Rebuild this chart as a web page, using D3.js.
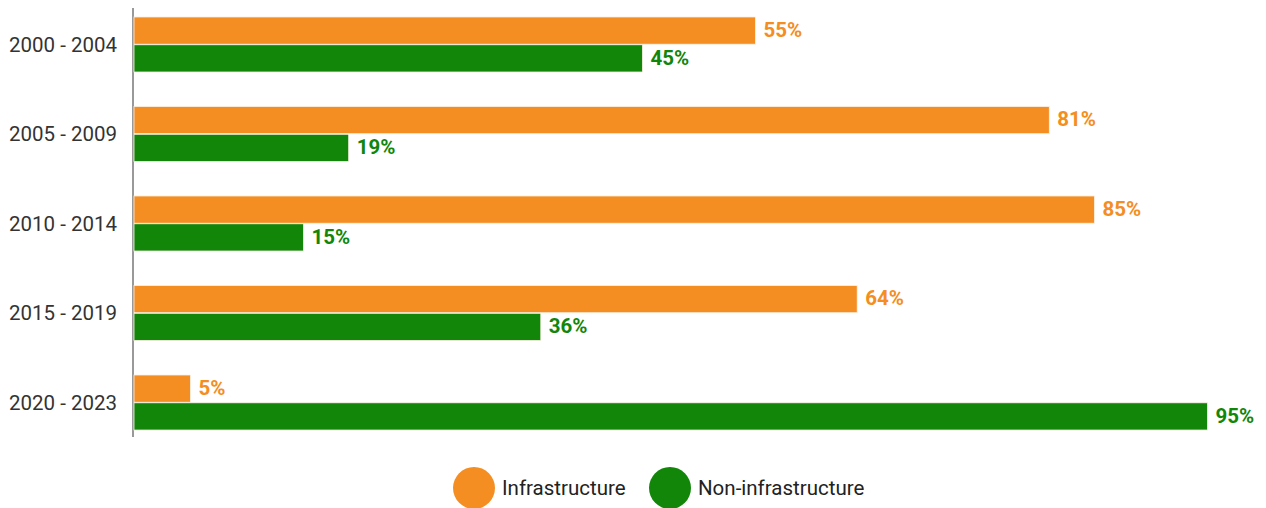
<!DOCTYPE html>
<html>
<head>
<meta charset="utf-8">
<script src="https://cdn.jsdelivr.net/npm/d3@7"></script>
<style>
  body { margin: 0; background: #fff; }
  text { font-family: Roboto, "Noto Sans", sans-serif; }
</style>
</head>
<body>
<script>
// data
var periods = ["2000 - 2004", "2005 - 2009", "2010 - 2014", "2015 - 2019", "2020 - 2023"];
var seriesNames = ["Infrastructure", "Non-infrastructure"];
var infra = [55, 81, 85, 64, 5];
var nonInfra = [45, 19, 15, 36, 95];
var colors = ["#F48D22", "#118609"];

var rows = periods.map(function(p, i) {
  return {period: p, values: [infra[i], nonInfra[i]]};
});

var width = 1266, height = 508;
var svg = d3.select("body").append("svg")
  .attr("width", width)
  .attr("height", height);

// scales
var xScale = d3.scaleLinear().domain([0, 100]).range([134, 1264]);
var yScale = d3.scaleBand().domain(periods).range([-17.5, 464.5]).padding(0.385);
var subScale = d3.scaleBand().domain([0, 1]).range([0, yScale.bandwidth()]).paddingInner(0.02);

// axis line
svg.append("line")
  .attr("x1", 133).attr("x2", 133)
  .attr("y1", 8).attr("y2", 437)
  .attr("stroke", "#777")
  .attr("stroke-width", 1.5);

// category labels
svg.selectAll(".cat")
  .data(periods)
  .enter()
  .append("text")
  .attr("class", "cat")
  .attr("x", 117)
  .attr("y", function(d) { return yScale(d) + yScale.bandwidth() / 2; })
  .attr("dy", "0.35em")
  .attr("text-anchor", "end")
  .attr("font-size", 20.5)
  .attr("fill", "#333")
  .text(function(d) { return d; });

var groups = svg.selectAll(".grp")
  .data(rows)
  .enter()
  .append("g")
  .attr("class", "grp")
  .attr("transform", function(d) { return "translate(0," + yScale(d.period) + ")"; });

// bars
groups.selectAll("rect")
  .data(function(d) { return d.values; })
  .enter()
  .append("rect")
  .attr("x", xScale(0))
  .attr("y", function(d, i) { return subScale(i); })
  .attr("width", function(d) { return xScale(d) - xScale(0); })
  .attr("height", subScale.bandwidth())
  .attr("fill", function(d, i) { return colors[i]; })
  .attr("stroke", "#fdf3e8")
  .attr("stroke-width", 0.8);

// value labels
groups.selectAll(".val")
  .data(function(d) { return d.values; })
  .enter()
  .append("text")
  .attr("class", "val")
  .attr("x", function(d) { return xScale(d) + 8; })
  .attr("y", function(d, i) { return subScale(i) + subScale.bandwidth() / 2 - 1; })
  .attr("dy", "0.36em")
  .attr("font-size", 20.5)
  .attr("font-weight", "bold")
  .attr("fill", function(d, i) { return colors[i]; })
  .text(function(d) { return d + "%"; });

// legend
var legendX = [474, 670];
var legend = svg.selectAll(".leg")
  .data(seriesNames)
  .enter()
  .append("g")
  .attr("class", "leg")
  .attr("transform", function(d, i) { return "translate(" + legendX[i] + ",488)"; });

legend.append("circle")
  .attr("r", 21)
  .attr("fill", function(d, i) { return colors[i]; });

legend.append("text")
  .attr("x", 28)
  .attr("dy", "0.35em")
  .attr("font-size", 20.5)
  .attr("fill", "#222")
  .text(function(d) { return d; });
</script>
</body>
</html>
